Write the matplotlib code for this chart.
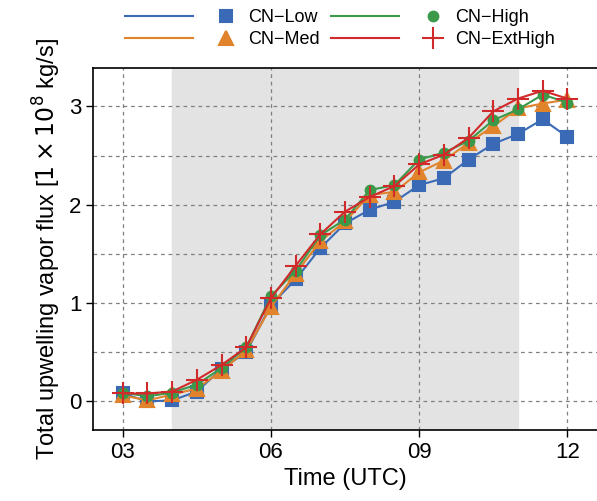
import matplotlib.pyplot as plt
from matplotlib.lines import Line2D
from matplotlib.legend_handler import HandlerTuple
import numpy as np

plt.rcParams['font.family'] = ['Liberation Sans', 'DejaVu Sans']

hours = np.arange(3, 12.01, 0.5)
cn_low = [0.08, 0.00, 0.01, 0.10, 0.33, 0.50, 0.98, 1.24, 1.56, 1.81, 1.95, 2.03,
          2.20, 2.27, 2.46, 2.62, 2.72, 2.87, 2.69]
cn_med = [0.06, 0.01, 0.07, 0.13, 0.31, 0.52, 0.96, 1.30, 1.63, 1.83, 2.10, 2.13,
          2.33, 2.45, 2.63, 2.80, 2.98, 3.03, 3.07]
cn_high = [0.09, 0.05, 0.09, 0.17, 0.34, 0.55, 1.07, 1.33, 1.69, 1.85, 2.15, 2.20,
           2.46, 2.53, 2.65, 2.86, 2.97, 3.12, 3.04]
cn_exthigh = [0.08, 0.08, 0.10, 0.22, 0.37, 0.55, 1.05, 1.38, 1.70, 1.93, 2.08, 2.19,
              2.41, 2.51, 2.68, 2.95, 3.08, 3.16, 3.08]

series = [
    ('CN\u2212Low', cn_low, '#3a6ab5', 's', 9),
    ('CN\u2212Med', cn_med, '#e0832b', '^', 10),
    ('CN\u2212High', cn_high, '#3a9a4a', 'o', 7),
    ('CN\u2212ExtHigh', cn_exthigh, '#d02a2a', '+', 16),
]

fig = plt.figure(figsize=(5.97, 5.01), dpi=100)
ax = fig.add_axes([0.156, 0.142, 0.844, 0.722])

ax.axvspan(4, 11, color='#e3e3e3', zorder=0)
handles, labels = [], []
for name, vals, col, mk, ms in series:
    ax.plot(hours, vals, color=col, marker=mk, ms=ms, mew=1.5, lw=1.5)
    ln = Line2D([], [], color=col, lw=1.5)
    pt = Line2D([], [], color=col, marker=mk, ms=ms, mew=1.5, ls='none')
    handles.append((ln, pt))
    labels.append(name)

ax.set_xlim(2.4, 12.6)
ax.set_ylim(-0.29, 3.39)
ax.set_xticks([3, 6, 9, 12])
ax.set_xticklabels(['03', '06', '09', '12'])
ax.set_yticks([0, 1, 2, 3])
ax.set_yticks(np.arange(0, 3.01, 0.5), minor=True)
ax.tick_params(labelsize=16, length=5, width=1, direction='out')
ax.tick_params(which='minor', length=0)
ax.grid(True, which='both', axis='y', ls=(0, (3, 3)), color='gray', lw=0.9)
ax.grid(True, which='major', axis='x', ls=(0, (3, 3)), color='gray', lw=0.9)
ax.set_axisbelow(True)
for s in ['left', 'bottom', 'top']:
    ax.spines[s].set_linewidth(1.2)
ax.spines['right'].set_visible(False)

ax.set_xlabel('Time (UTC)', fontsize=17)
ax.set_ylabel(r'Total upwelling vapor flux [$1\times10^8$ kg/s]', fontsize=17)

ax.legend(handles, labels, handler_map={tuple: HandlerTuple(ndivide=None, pad=0)},
          loc='lower left', bbox_to_anchor=(0.045, 1.03), ncol=2, frameon=False,
          fontsize=13, handlelength=7.5, columnspacing=0.6, labelspacing=0.3,
          borderpad=0, handletextpad=-0.65)

fig.savefig('out.png', dpi=100)
